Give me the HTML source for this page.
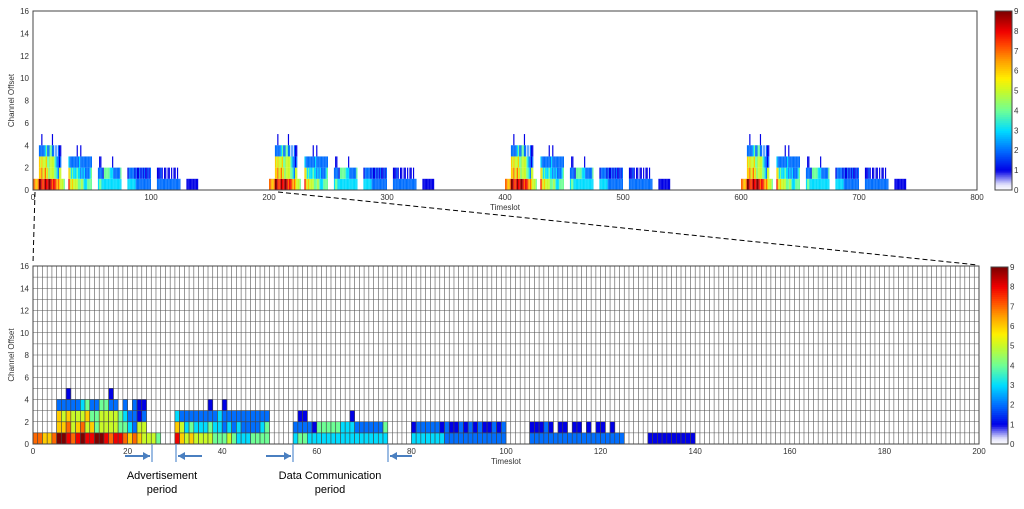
<!DOCTYPE html>
<html><head><meta charset="utf-8"><style>
body{margin:0;background:#fff;font-family:"Liberation Sans",sans-serif}
svg text{font-family:"Liberation Sans",sans-serif}
</style></head><body>
<svg id="s" width="1024" height="504" xmlns="http://www.w3.org/2000/svg"></svg>
<script>
// Heatmap rows (channel 0..4), one char per timeslot starting at 0; '.' = empty
const row0 = "776679987898899878876765554" + "..." + "86565555444543334444" + "....." + "34433333333333333333" + "....." + "33333332222222222222" + "....." + "22222222222222222222" + "....." + "1111111111";
const row1 = "....." + "6675675645555443255" + "......" + "65343334332323222234" + "....." + "22221444443332222224" + "....." + "12222212112121211212" + "....." + "11121.11.11.1.11.1..";
const row2 = "....." + "6565556445555432212" + "......" + "32222222232222222222" + "....." + ".11.........1.......";
const row3 = "....." + "2222234224422.2.211" + "......" + ".......1..1.........";
const row4 = "......." + "1........1";
const rows = [row0,row1,row2,row3,row4];
const repeatOffsets = [0,200,400,600];
const yTicks = [0,2,4,6,8,10,12,14,16];
const xTicksTop = [0,100,200,300,400,500,600,700,800];
const xTicksBot = [0,20,40,60,80,100,120,140,160,180,200];
const cbTicks = [0,1,2,3,4,5,6,7,8,9];

const stops=[[0,[255,255,255]],[0.3,[225,225,250]],[1,[0,0,230]],[2,[0,110,255]],[3,[0,220,255]],[4,[110,255,150]],[5,[200,250,40]],[5.6,[255,240,0]],[6.5,[255,160,0]],[7.3,[255,70,0]],[8,[240,0,0]],[9,[125,0,0]]];
function col(v){for(let i=1;i<stops.length;i++){if(v<=stops[i][0]){const a=stops[i-1],b=stops[i],t=(v-a[0])/(b[0]-a[0]);const c=a[1].map((x,k)=>Math.round(x+(b[1][k]-x)*t));return `rgb(${c})`;}}return 'rgb(125,0,0)';}
const svg=document.getElementById('s');const NS='http://www.w3.org/2000/svg';
function mk(t,a,txt){const e=document.createElementNS(NS,t);for(const k in a)e.setAttribute(k,a[k]);if(txt!==undefined)e.textContent=txt;svg.appendChild(e);return e;}

function chart(x0,y0,x1,y1,xmax,offsets,xt,grid,name){
  const sx=v=>x0+(x1-x0)*v/xmax, sy=v=>y1-(y1-y0)*v/16;
  if(grid){
    for(let i=1;i<xmax;i++){const l=mk('line',{x1:sx(i),x2:sx(i),y1:y0,y2:y1,stroke:'#555','stroke-width':0.6});}
    for(let j=1;j<16;j++){const l=mk('line',{x1:x0,x2:x1,y1:sy(j),y2:sy(j),stroke:'#555','stroke-width':0.6});}
  }
  offsets.forEach(o=>{rows.forEach((r,ch)=>{for(let t=0;t<r.length;t++){const c=r[t];if(c==='.')continue;const v=+c;
    const e=mk('rect',{x:sx(o+t),y:sy(ch+1),width:sx(o+t+1)-sx(o+t),height:sy(ch)-sy(ch+1),fill:col(v),stroke:grid?'#444':'none','stroke-width':grid?0.6:0});
    }});});
  const b=mk('rect',{x:x0,y:y0,width:x1-x0,height:y1-y0,fill:'none',stroke:'#444','stroke-width':1});
  yTicks.forEach(v=>{const t=mk('text',{x:x0-4,y:sy(v)+3,'font-size':8,'text-anchor':'end',fill:'#333'},v);});
  xt.forEach(v=>{const t=mk('text',{x:sx(v),y:y1+10,'font-size':8,'text-anchor':'middle',fill:'#333'},v);});
  const xl=mk('text',{x:(x0+x1)/2,y:y1+20,'font-size':8,'text-anchor':'middle',fill:'#333'},'Timeslot');
  const yl=mk('text',{x:0,y:0,'font-size':8,'text-anchor':'middle',fill:'#333',transform:`translate(14,${(y0+y1)/2}) rotate(-90)`},'Channel Offset');
}
function cbar(x,y0,y1,name){
  const n=90;for(let i=0;i<n;i++){const v=9*(i+0.5)/n;const h=(y1-y0)/n;const r=mk('rect',{x:x,y:y1-(i+1)*h,width:17,height:h+0.5,fill:col(v)});}
  const b=mk('rect',{x:x,y:y0,width:17,height:y1-y0,fill:'none',stroke:'#444'});
  cbTicks.forEach(v=>{const yy=y1-(y1-y0)*v/9;const t=mk('text',{x:x+19,y:yy+3,'font-size':8,fill:'#333'},v);});
}
chart(33,11,977,190,800,repeatOffsets,xTicksTop,false,'top');
cbar(995,11,190,'top-colorbar');
chart(33,266,979,444,200,[0],xTicksBot,true,'bottom');
cbar(991,267,444,'bottom-colorbar');
let d=mk('line',{x1:35,y1:192,x2:33,y2:263,stroke:'#000','stroke-dasharray':'5,3','stroke-width':1});
d=mk('line',{x1:278,y1:192,x2:978,y2:265,stroke:'#000','stroke-dasharray':'5,3','stroke-width':1});
[152,176,293,388].forEach(x=>{const l=mk('line',{x1:x,x2:x,y1:444,y2:462,stroke:'#5b8fd0','stroke-width':1.2});});
function arrow(xa,xb,y){const l=mk('line',{x1:xa,x2:xb,y1:y,y2:y,stroke:'#4a7fc0','stroke-width':2});
 const dir=xb>xa?1:-1;const p=mk('polygon',{points:`${xb},${y} ${xb-dir*7},${y-4} ${xb-dir*7},${y+4}`,fill:'#4a7fc0'});}
arrow(125,150,456);arrow(202,178,456);arrow(266,291,456);arrow(412,390,456);
let t=mk('text',{x:162,y:479,'font-size':11,'text-anchor':'middle',fill:'#000'},'Advertisement');
t=mk('text',{x:162,y:493,'font-size':11,'text-anchor':'middle',fill:'#000'},'period');
t=mk('text',{x:330,y:479,'font-size':11,'text-anchor':'middle',fill:'#000'},'Data Communication');
t=mk('text',{x:330,y:493,'font-size':11,'text-anchor':'middle',fill:'#000'},'period');
</script>
</body></html>
